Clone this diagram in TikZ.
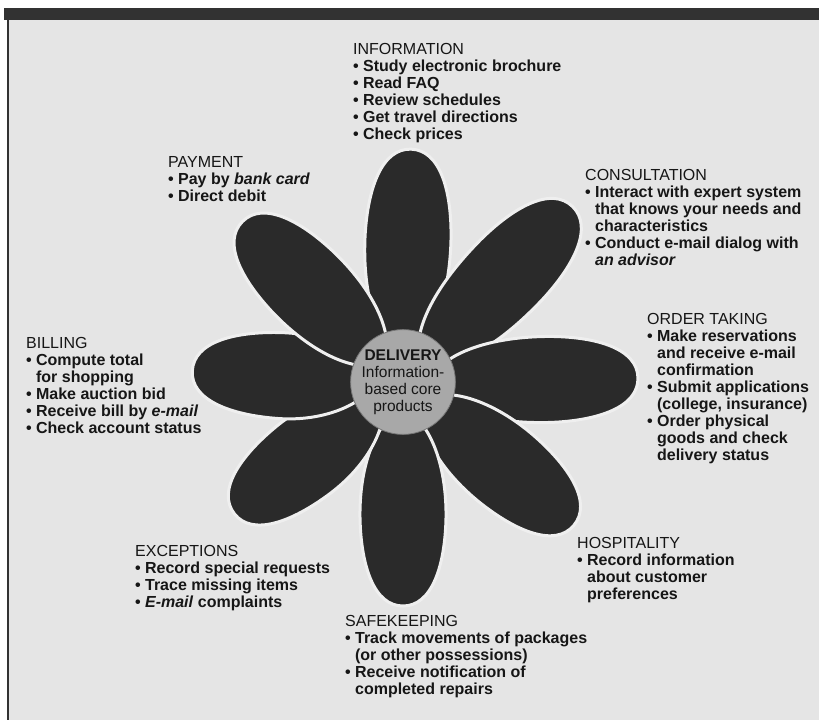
\documentclass[tikz,border=0pt]{standalone}
\usepackage{fontspec}
\setmainfont{Liberation Sans}
\definecolor{paper}{RGB}{229,229,229}
\definecolor{ink}{RGB}{22,22,22}
\definecolor{bar}{RGB}{50,50,50}
\definecolor{petal}{RGB}{42,42,42}
\definecolor{hub}{RGB}{168,168,168}
% bullet item, and the continuation of an item on the next line
\newcommand\itm{\bfseries\makebox[0.62em][l]{\textbullet}}
\newcommand\cnt{\bfseries\hspace*{0.62em}}
\newcommand\blk[1]{\begin{tabular}[t]{@{}l@{}}#1\end{tabular}}
\tikzset{
  textblock/.style={anchor=base west, inner sep=0pt, text=ink,
    font=\fontsize{16}{17}\selectfont},
  hubnode/.style={circle, fill=hub, draw=hub!70!black, line width=0.8pt,
    minimum size=104pt, inner sep=0pt, align=center, text=ink,
    font=\fontsize{15.5}{17}\selectfont},
  petalfill/.style={fill=petal, draw=paper!60!white, line width=3pt}
}
\begin{document}
\begin{tikzpicture}[x=1pt,y=-1pt]
\useasboundingbox (0,0) rectangle (819,720);
% page, top rule and left rule
\fill[white] (0,0) rectangle (819,720);
\fill[paper] (8,20) rectangle (819,720);
\fill[bar] (4,8) rectangle (819,20);
\draw[bar, line width=1.5pt] (8,20) -- (8,720);

% eight petals around the hub: angle / tip distance
\foreach \ang/\len in {88/233, 46/244, 1/235, -40/223, -90/224, -142/214, 177/211, 135/227} {
  \begin{scope}[shift={(403,382)}, rotate=\ang]
    \filldraw[petalfill] (30,0) .. controls (30,-18) and (70,-44) .. ({\len-88},-43)
      .. controls ({\len-40},-42) and (\len,-29) .. (\len,0)
      .. controls (\len,29) and ({\len-40},42) .. ({\len-88},43)
      .. controls (70,44) and (30,18) .. (30,0) -- cycle;
  \end{scope}
}

\node[hubnode] (core) at (403,382) {\textbf{DELIVERY}\\Information-\\based core\\products};

\node[textblock] (information) at (353,54) {\blk{INFORMATION\\
  \itm Study electronic brochure\\
  \itm Read FAQ\\
  \itm Review schedules\\
  \itm Get travel directions\\
  \itm Check prices}};

\node[textblock] (payment) at (168,167) {\blk{PAYMENT\\
  \itm Pay by \textit{bank card}\\
  \itm Direct debit}};

\node[textblock] (consultation) at (585,180) {\blk{CONSULTATION\\
  \itm Interact with expert system\\
  \cnt that knows your needs and\\
  \cnt characteristics\\
  \itm Conduct e-mail dialog with\\
  \cnt \textit{an advisor}}};

\node[textblock] (ordertaking) at (647,324) {\blk{ORDER TAKING\\
  \itm Make reservations\\
  \cnt and receive e-mail\\
  \cnt confirmation\\
  \itm Submit applications\\
  \cnt (college, insurance)\\
  \itm Order physical\\
  \cnt goods and check\\
  \cnt delivery status}};

\node[textblock] (billing) at (26,348) {\blk{BILLING\\
  \itm Compute total\\
  \cnt for shopping\\
  \itm Make auction bid\\
  \itm Receive bill by \textit{e-mail}\\
  \itm Check account status}};

\node[textblock] (exceptions) at (135,556) {\blk{EXCEPTIONS\\
  \itm Record special requests\\
  \itm Trace missing items\\
  \itm \textit{E-mail} complaints}};

\node[textblock] (hospitality) at (577,548) {\blk{HOSPITALITY\\
  \itm Record information\\
  \cnt about customer\\
  \cnt preferences}};

\node[textblock] (safekeeping) at (345,626) {\blk{SAFEKEEPING\\
  \itm Track movements of packages\\
  \cnt (or other possessions)\\
  \itm Receive notification of\\
  \cnt completed repairs}};
\end{tikzpicture}
\end{document}
